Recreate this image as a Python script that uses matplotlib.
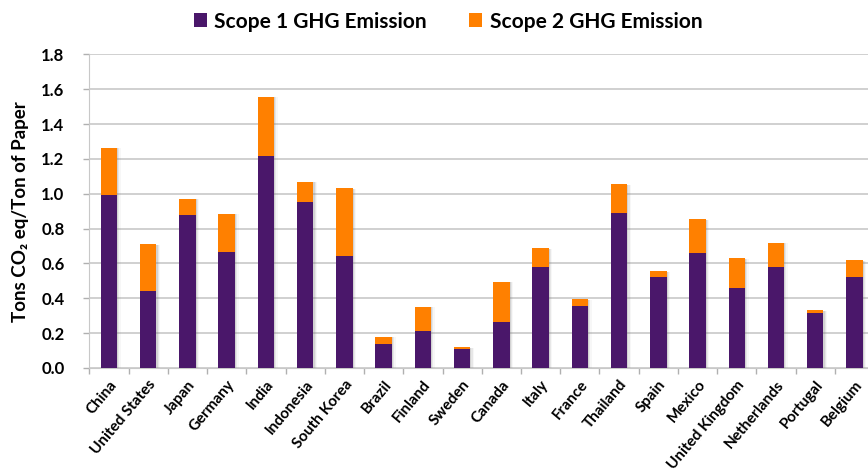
import numpy as np
import matplotlib.pyplot as plt
from matplotlib.transforms import offset_copy

countries = ['China', 'United States', 'Japan', 'Germany', 'India', 'Indonesia',
             'South Korea', 'Brazil', 'Finland', 'Sweden', 'Canada', 'Italy',
             'France', 'Thailand', 'Spain', 'Mexico', 'United Kingdom',
             'Netherlands', 'Portugal', 'Belgium']
scope1 = [0.99, 0.44, 0.88, 0.665, 1.215, 0.95, 0.645, 0.14, 0.215, 0.107, 0.265,
          0.577, 0.355, 0.887, 0.522, 0.659, 0.457, 0.581, 0.317, 0.522]
scope2 = [0.275, 0.27, 0.09, 0.22, 0.342, 0.12, 0.385, 0.04, 0.137, 0.013, 0.23,
          0.109, 0.039, 0.166, 0.034, 0.195, 0.172, 0.139, 0.014, 0.097]
yticks = [0.0, 0.2, 0.4, 0.6, 0.8, 1.0, 1.2, 1.4, 1.6, 1.8]

purple = '#4a176a'
orange = '#ff8000'
font = ['Lato', 'DejaVu Sans']
plt.rcParams['font.family'] = font

fig = plt.figure(figsize=(8.68, 4.75), dpi=100)
ax = fig.add_axes([0.103, 0.2253, 0.904, 0.6604])

x = np.arange(len(countries))
w = 0.42

# soft drop shadow behind each stack
total = np.array(scope1) + np.array(scope2)
for dx, a in [(0.8, 0.18), (1.6, 0.12), (2.6, 0.06)]:
    tr = offset_copy(ax.transData, fig=fig, x=dx, y=-0.4, units='points')
    ax.bar(x, total, w, color='#777777', alpha=a, transform=tr, zorder=2, linewidth=0)

ax.bar(x, scope1, w, color=purple, label='Scope 1 GHG Emission', zorder=3, linewidth=0)
ax.bar(x, scope2, w, bottom=scope1, color=orange, label='Scope 2 GHG Emission',
       zorder=3, linewidth=0)

ax.set_xlim(-0.5, len(countries) - 0.5)
ax.set_ylim(0, 1.8)
ax.set_yticks(yticks)
ax.set_yticklabels([f'{v:.1f}' for v in yticks], fontsize=12, fontweight='bold')
ax.yaxis.grid(True, color='#c8c8c8', linewidth=1.2, zorder=0)
ax.set_axisbelow(True)

ax.set_xticks(x)
ax.set_xticklabels(countries, rotation=50, ha='right', rotation_mode='anchor',
                   fontsize=11, fontweight='bold')
ax.set_xticks(np.arange(len(countries) + 1) - 0.5, minor=True)
ax.tick_params(axis='x', which='major', length=0, pad=7)
ax.tick_params(axis='x', which='minor', length=4, color='#b0b0b0', width=1)
ax.tick_params(axis='y', length=4, color='#b0b0b0', width=1, pad=14)

for s in ['top', 'right']:
    ax.spines[s].set_visible(False)
ax.spines['left'].set_color('#c8c8c8')
ax.spines['bottom'].set_color('#c8c8c8')

ax.set_ylabel('Tons CO\u2082 eq/Ton of Paper', fontsize=13.5, fontweight='bold', labelpad=9)

handles, labels = ax.get_legend_handles_labels()
fig.legend(handles[-2:], labels[-2:], loc='upper center', bbox_to_anchor=(0.516, 1.015),
           ncol=2, frameon=False, prop={'family': font, 'weight': 'bold', 'size': 15},
           handlelength=0.65, handleheight=0.65, handletextpad=0.35, columnspacing=2.0)

fig.savefig('out.png', dpi=100)
